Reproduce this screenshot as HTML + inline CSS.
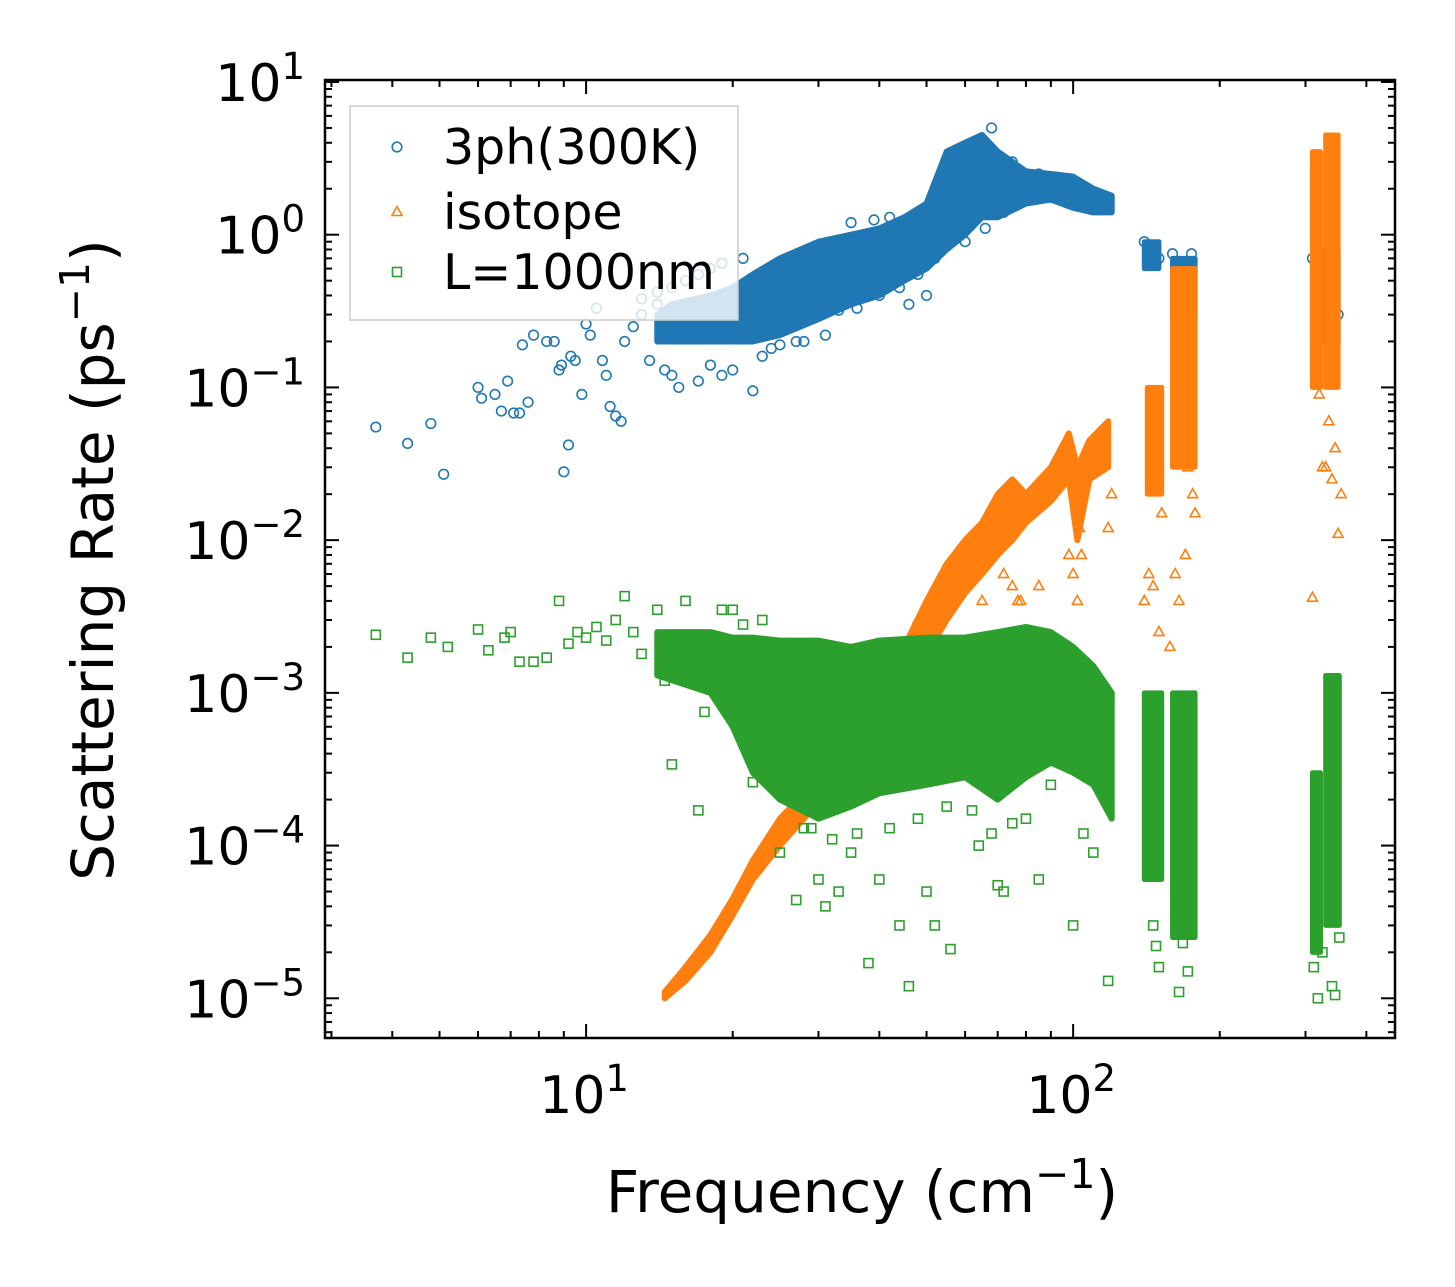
<!DOCTYPE html>
<html><head><meta charset="utf-8"><style>
html,body{margin:0;padding:0;background:#fff;}
svg{display:block;font-family:"DejaVu Sans","Liberation Sans",sans-serif;}
</style></head><body>
<svg id="chart" width="1455" height="1287" viewBox="0 0 1455 1287" xmlns="http://www.w3.org/2000/svg">
<g id="bands"></g><g id="marks"></g><g id="axes"></g><g id="legend"></g>
</svg>
<script>
// ---- data (frequency in cm^-1, rate in ps^-1) ----
const blueX=[3.7,4.3,4.8,5.1,6,6.1,6.5,6.7,6.9,7.1,7.3,7.4,7.6,7.8,8.3,8.6,8.8,8.9,9.0,9.2,9.3,9.5,9.8,10,10.2,10.5,10.8,11,11.2,11.5,11.8,12,12.5,13,13.5,14,14.5,15,15.5,16,17,18,19,20,22,24,27,30,33,36,40,44,48,52,58,64,68,75,85,95,105,115,140,145,150,160,165,170,175,310,320,330,340,345,350,13,14,15,16,17,18,19,21,23,25,28,31,35,39,42,46,50,55,60,66,72];
const blueY=[0.055,0.043,0.058,0.027,0.1,0.085,0.09,0.07,0.11,0.068,0.068,0.19,0.08,0.22,0.2,0.2,0.13,0.14,0.028,0.042,0.16,0.15,0.09,0.26,0.22,0.33,0.15,0.12,0.075,0.065,0.06,0.2,0.25,0.3,0.15,0.35,0.13,0.12,0.1,0.25,0.11,0.14,0.12,0.13,0.095,0.18,0.2,0.3,0.32,0.33,0.4,0.45,0.55,0.7,2.5,3.5,5,3,2.5,2.3,2,1.7,0.9,0.8,0.7,0.75,0.5,0.6,0.75,0.7,0.5,0.25,0.3,0.2,0.3,0.38,0.42,0.45,0.5,0.55,0.6,0.65,0.7,0.16,0.19,0.2,0.22,1.2,1.25,1.3,0.35,0.4,1.8,0.9,1.1,1.4];
const blueBandX=[14,15,18,20,22,25,30,35,40,45,50,55,60,65,70,80,90,100,110,120];
const blueBandLo=[0.2,0.2,0.2,0.2,0.2,0.22,0.28,0.35,0.4,0.5,0.6,0.8,1.0,1.3,1.3,1.6,1.7,1.5,1.4,1.4];
const blueBandHi=[0.3,0.35,0.4,0.45,0.55,0.7,0.9,1.0,1.1,1.3,1.6,3.5,4.0,4.5,3.5,2.6,2.5,2.4,2.0,1.8];
const blueClusterX=[[140,150],[160,178],[310,350]];
const blueClusterLo=[0.6,0.3,0.2];
const blueClusterHi=[0.9,0.7,0.8];

const orangeX=[310,325,340,345,350,355,320,330,335,140,143,146,150,152,158,162,165,170,172,176,178,75,77,100,102,104,118,120,48,60,65,72,78,85,98,103];
const orangeY=[0.0042,0.03,0.025,0.04,0.011,0.02,0.09,0.03,0.06,0.004,0.006,0.005,0.0025,0.015,0.002,0.006,0.004,0.008,0.03,0.02,0.015,0.005,0.004,0.006,0.004,0.008,0.012,0.02,0.003,0.005,0.004,0.006,0.004,0.005,0.008,0.012];
const orangeBandX=[14.5,16,18,20,22,25,28,32,36,40,45,50,55,60,65,70,75,80,90,98,102,108,118];
const orangeBandLo=[1e-5,1.3e-5,2e-5,3.5e-5,6e-5,1e-4,1.5e-4,2.5e-4,4e-4,7e-4,1e-3,1.8e-3,3e-3,4.5e-3,6e-3,8e-3,1e-2,1.3e-2,1.8e-2,2.5e-2,1e-2,2.5e-2,3e-2];
const orangeBandHi=[1.1e-5,1.6e-5,2.6e-5,4.5e-5,8e-5,1.5e-4,2.2e-4,4.5e-4,8e-4,1.3e-3,2e-3,4e-3,7e-3,1e-2,1.3e-2,2e-2,2.5e-2,2e-2,3e-2,5e-2,3e-2,4.5e-2,6e-2];
const orangeClusterX=[[142,152],[160,178],[310,322],[330,350]];
const orangeClusterLo=[0.02,0.03,0.1,0.1];
const orangeClusterHi=[0.1,0.6,3.5,4.5];

const greenX=[3.7,4.3,4.8,5.2,6,6.3,6.8,7,7.3,7.8,8.3,8.8,9.2,9.6,10,10.5,11,11.5,12,12.5,13,14,14.5,15,16,17,17.5,19,22,25,27,28,30,31,33,35,38,40,44,46,50,52,56,64,70,72,80,85,100,110,118,146,148,150,165,168,172,175,312,318,325,340,345,352,20,21,23,24,26,29,32,36,42,48,55,62,68,75,90,105];
const greenY=[2.4e-3,1.7e-3,2.3e-3,2e-3,2.6e-3,1.9e-3,2.3e-3,2.5e-3,1.6e-3,1.6e-3,1.7e-3,4e-3,2.1e-3,2.5e-3,2.3e-3,2.7e-3,2.2e-3,3e-3,4.3e-3,2.5e-3,1.8e-3,3.5e-3,1.2e-3,3.4e-4,4e-3,1.7e-4,7.5e-4,3.5e-3,2.6e-4,9e-5,4.4e-5,1.3e-4,6e-5,4e-5,5e-5,9e-5,1.7e-5,6e-5,3e-5,1.2e-5,5e-5,3e-5,2.1e-5,1e-4,5.5e-5,5e-5,1.5e-4,6e-5,3e-5,9e-5,1.3e-5,3e-5,2.2e-5,1.6e-5,1.1e-5,2.3e-5,1.5e-5,2.8e-5,1.6e-5,1e-5,2e-5,1.2e-5,1.05e-5,2.5e-5,3.5e-3,2.8e-3,3e-3,2.6e-4,2.7e-4,1.3e-4,1.1e-4,1.2e-4,1.3e-4,1.5e-4,1.8e-4,1.7e-4,1.2e-4,1.4e-4,2.5e-4,1.2e-4];
const greenBandX=[14,18,20,22,25,30,35,40,50,60,70,80,90,100,110,120];
const greenBandLo=[1.3e-3,1e-3,6e-4,3e-4,2e-4,1.5e-4,1.8e-4,2.2e-4,2.5e-4,2.8e-4,2e-4,2.8e-4,3.5e-4,3e-4,2.5e-4,1.5e-4];
const greenBandHi=[2.5e-3,2.5e-3,2.3e-3,2.3e-3,2.2e-3,2.2e-3,2e-3,2.2e-3,2.3e-3,2.3e-3,2.5e-3,2.7e-3,2.5e-3,2e-3,1.5e-3,1e-3];
const greenClusterX=[[140,152],[160,178],[310,322],[330,352]];
const greenClusterLo=[6e-5,2.5e-5,2e-5,3e-5];
const greenClusterHi=[1e-3,1e-3,3e-4,1.3e-3];

const yTickExp=[1,0,-1,-2,-3,-4,-5];
const xTickExp=[1,2];

// ---- axes ----
const L=325,R=1395,T=80,B=1038;
const xmin=Math.log10(2.91),xmax=Math.log10(458);
const ymin=-5.26,ymax=1.013;
const sx=v=>L+(Math.log10(v)-xmin)/(xmax-xmin)*(R-L);
const sy=v=>B-(Math.log10(v)-ymin)/(ymax-ymin)*(B-T);
const NS='http://www.w3.org/2000/svg';
function mk(tag,attrs,parent){const e=document.createElementNS(NS,tag);for(const k in attrs)e.setAttribute(k,attrs[k]);parent.appendChild(e);return e;}
const C={b:'#1f77b4',o:'#ff7f0e',g:'#2ca02c'};
const bands=document.getElementById('bands'),axes=document.getElementById('axes'),leg=document.getElementById('legend');

function band(xs,lo,hi,col,name,parent){
  let pts=[];for(let i=0;i<xs.length;i++)pts.push(sx(xs[i])+','+sy(hi[i]));
  for(let i=xs.length-1;i>=0;i--)pts.push(sx(xs[i])+','+sy(lo[i]));
  const p=mk('polygon',{points:pts.join(' '),fill:col,stroke:col,'stroke-width':6,'stroke-linejoin':'round'},parent);
  
  
}
function clusters(xr,lo,hi,col,name,parent){
  for(let i=0;i<xr.length;i++){
    const x0=sx(xr[i][0]),x1=sx(xr[i][1]);
    const r=mk('rect',{x:x0,y:sy(hi[i]),width:Math.max(4,x1-x0),height:sy(lo[i])-sy(hi[i]),fill:col,stroke:col,'stroke-width':5,'stroke-linejoin':'round'},parent);
    
    
  }
}
function marker(type,x,y,col,parent){
  let e;
  if(type==='c')e=mk('circle',{cx:x,cy:y,r:4.8,fill:'none',stroke:col,'stroke-width':1.6},parent);
  else if(type==='t')e=mk('polygon',{points:`${x},${y-5.5} ${x-5},${y+3.5} ${x+5},${y+3.5}`,fill:'none',stroke:col,'stroke-width':1.6},parent);
  else e=mk('rect',{x:x-4.5,y:y-4.5,width:9,height:9,fill:'none',stroke:col,'stroke-width':1.6},parent);
  return e;
}
const gB=mk('g',{},bands),gO=mk('g',{},bands),gG=mk('g',{},bands);
band(blueBandX,blueBandLo,blueBandHi,C.b,'3ph-dense-band',gB);
clusters(blueClusterX,blueClusterLo,blueClusterHi,C.b,'3ph-cluster',gB);
for(let i=0;i<blueX.length;i++){const m=marker('c',sx(blueX[i]),sy(blueY[i]),C.b,gB);

}
band(orangeBandX,orangeBandLo,orangeBandHi,C.o,'isotope-dense-band',gO);
clusters(orangeClusterX,orangeClusterLo,orangeClusterHi,C.o,'isotope-cluster',gO);
for(let i=0;i<orangeX.length;i++){const m=marker('t',sx(orangeX[i]),sy(orangeY[i]),C.o,gO);

}
band(greenBandX,greenBandLo,greenBandHi,C.g,'boundary-dense-band',gG);
clusters(greenClusterX,greenClusterLo,greenClusterHi,C.g,'boundary-cluster',gG);
for(let i=0;i<greenX.length;i++){const m=marker('s',sx(greenX[i]),sy(greenY[i]),C.g,gG);

}

// frame
const fr=mk('rect',{x:L,y:T,width:R-L,height:B-T,fill:'none',stroke:'#000','stroke-width':2.5},axes);


function tick(x1,y1,x2,y2){mk('line',{x1,y1,x2,y2,stroke:'#000','stroke-width':2},axes);}
for(let e=-6;e<=1;e++){
  for(let m=1;m<10;m++){
    const v=m*Math.pow(10,e);const y=sy(v);if(y<T-0.5||y>B+0.5)continue;
    const len=m===1?14:7;tick(L,y,L+len,y);tick(R,y,R-len,y);
  }
}
yTickExp.forEach(e=>{
  const t=mk('text',{x:305,y:sy(Math.pow(10,e))+19,'text-anchor':'end','font-size':52},axes);
  
  
  t.innerHTML='10<tspan dy="-22" font-size="37">'+(e<0?'\u2212'+(-e):e)+'</tspan>';
});
for(let e=0;e<=2;e++){
  for(let m=1;m<10;m++){
    const v=m*Math.pow(10,e);const x=sx(v);if(x<L-0.5||x>R+0.5)continue;
    const len=m===1?14:7;tick(x,B,x,B-len);tick(x,T,x,T+len);
  }
}
xTickExp.forEach(e=>{
  const t=mk('text',{x:sx(Math.pow(10,e))-2,y:1113,'text-anchor':'middle','font-size':52},axes);
  
  
  t.innerHTML='10<tspan dy="-22" font-size="37">'+e+'</tspan>';
});
const xt=mk('text',{x:862,y:1212,'text-anchor':'middle','font-size':58},axes);


xt.innerHTML='Frequency (cm<tspan dy="-24" font-size="41">\u22121</tspan><tspan dy="24">)</tspan>';
const yt=mk('text',{x:0,y:0,'text-anchor':'middle','font-size':58,transform:'translate(113,560) rotate(-90)'},axes);


yt.innerHTML='Scattering Rate (ps<tspan dy="-24" font-size="41">\u22121</tspan><tspan dy="24">)</tspan>';

// legend
const lb=mk('rect',{x:350,y:106,width:388,height:214,fill:'#fff','fill-opacity':0.8,stroke:'#ccc','stroke-width':1.5},leg);


[['c',C.b,'3ph(300K)',147],['t',C.o,'isotope',212],['s',C.g,'L=1000nm',272]].forEach(([tp,col,txt,y])=>{
  const g=mk('g',{},leg);
  
  
  marker(tp,397,y,col,g);
  const t=mk('text',{x:443,y:y+17,'font-size':49},g);t.textContent=txt;
});
</script>
</body></html>
